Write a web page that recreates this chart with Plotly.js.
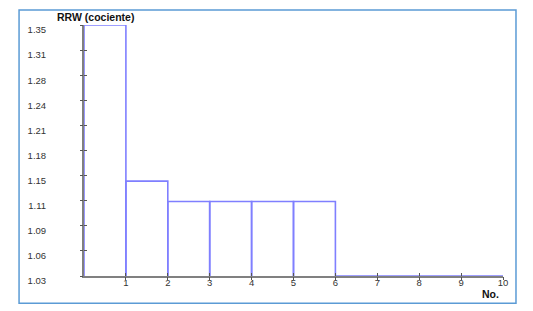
<!DOCTYPE html>
<html>
<head>
<meta charset="utf-8">
<script src="https://cdn.plot.ly/plotly-3.0.1.min.js"></script>
<style>html,body{margin:0;padding:0;background:#fff;}#chart{width:533px;height:311px;}</style>
</head>
<body>
<div id="chart"></div>
<script>
// Data (bin index 1..10, RRW quotient per bin on the chart's linear scale)
const binNumbers = [1, 2, 3, 4, 5, 6, 7, 8, 9, 10];
const rrwValues = [1.35, 1.151, 1.125, 1.125, 1.125, 1.125, 1.03, 1.03, 1.03, 1.03];
const yTickValues = [1.03, 1.062, 1.094, 1.126, 1.158, 1.19, 1.222, 1.254, 1.286, 1.318, 1.35];
const yTickLabels = ['1.03', '1.06', '1.09', '1.11', '1.15', '1.18', '1.21', '1.24', '1.28', '1.31', '1.35'];
const xTickValues = [1, 2, 3, 4, 5, 6, 7, 8, 9, 10];
const baseValue = 1.03;

// Build rectangle outlines (histogram style) from data
const ox = [], oy = [];
binNumbers.forEach((n, i) => {
  const x0 = n - 1, x1 = n, v = rrwValues[i];
  ox.push(x0, x0, x1, x1, null);
  oy.push(baseValue, v, v, baseValue, null);
});

const traces = [
  {type: 'scatter', mode: 'lines', x: [0, 10], y: [1.03, 1.35], xaxis: 'x2', yaxis: 'y2',
   line: {color: 'rgba(0,0,0,0)', width: 0}, hoverinfo: 'skip', showlegend: false},
  {type: 'scatter', mode: 'lines', x: ox, y: oy,
   line: {color: '#7f7fff', width: 1.6}, hoverinfo: 'skip', showlegend: false, cliponaxis: false}
];

const tickCommon = {ticklen: 3, tickcolor: '#555555', tickwidth: 1, showgrid: false, zeroline: false, fixedrange: true};

const layout = {
  width: 533, height: 311,
  margin: {l: 84, r: 30, t: 25, b: 35},
  paper_bgcolor: '#ffffff', plot_bgcolor: '#ffffff',
  font: {family: 'Liberation Sans, Arial, sans-serif', size: 10, color: '#333333'},
  showlegend: false,
  xaxis: Object.assign({
    range: [0, 10], tickvals: xTickValues, ticktext: xTickValues.map(String),
    showline: true, linecolor: '#808080', linewidth: 2, ticks: 'inside',
    tickfont: {size: 9.5, color: '#333333'}, ticklabelstandoff: -3
  }, tickCommon),
  yaxis: Object.assign({
    range: [1.03, 1.35], tickvals: yTickValues, ticktext: yTickLabels,
    showline: true, linecolor: '#808080', linewidth: 2, ticks: 'inside',
    tickfont: {size: 9.5, color: '#333333'}, ticklabelstandoff: 34, ticklabelshift: 5
  }, tickCommon),
  xaxis2: Object.assign({
    overlaying: 'x', anchor: 'y', side: 'bottom', range: [0, 10], tickvals: xTickValues,
    showticklabels: false, showline: false, ticks: 'outside'
  }, tickCommon),
  yaxis2: Object.assign({
    overlaying: 'y', anchor: 'x', side: 'left', range: [1.03, 1.35], tickvals: yTickValues,
    showticklabels: false, showline: false, ticks: 'outside'
  }, tickCommon),
  annotations: [
    {text: '<b>RRW (cociente)</b>', xref: 'paper', yref: 'paper', x: -0.069, y: 1.0, xanchor: 'left', yanchor: 'bottom',
     showarrow: false, font: {size: 10.5, color: '#111111'}, yshift: 0},
    {text: '<b>No.</b>', xref: 'paper', yref: 'paper', x: 0.995, y: 0, xanchor: 'right', yanchor: 'top',
     showarrow: false, font: {size: 10.5, color: '#111111'}, yshift: -10}
  ],
  shapes: [
    {type: 'rect', xref: 'paper', yref: 'paper', x0: -0.155, x1: 1.031, y0: -0.109, y1: 1.06,
     line: {color: '#5b9bd5', width: 1.5}, fillcolor: 'rgba(0,0,0,0)', layer: 'below'}
  ]
};

Plotly.newPlot('chart', traces, layout, {displayModeBar: false, staticPlot: true});
</script>
</body>
</html>
